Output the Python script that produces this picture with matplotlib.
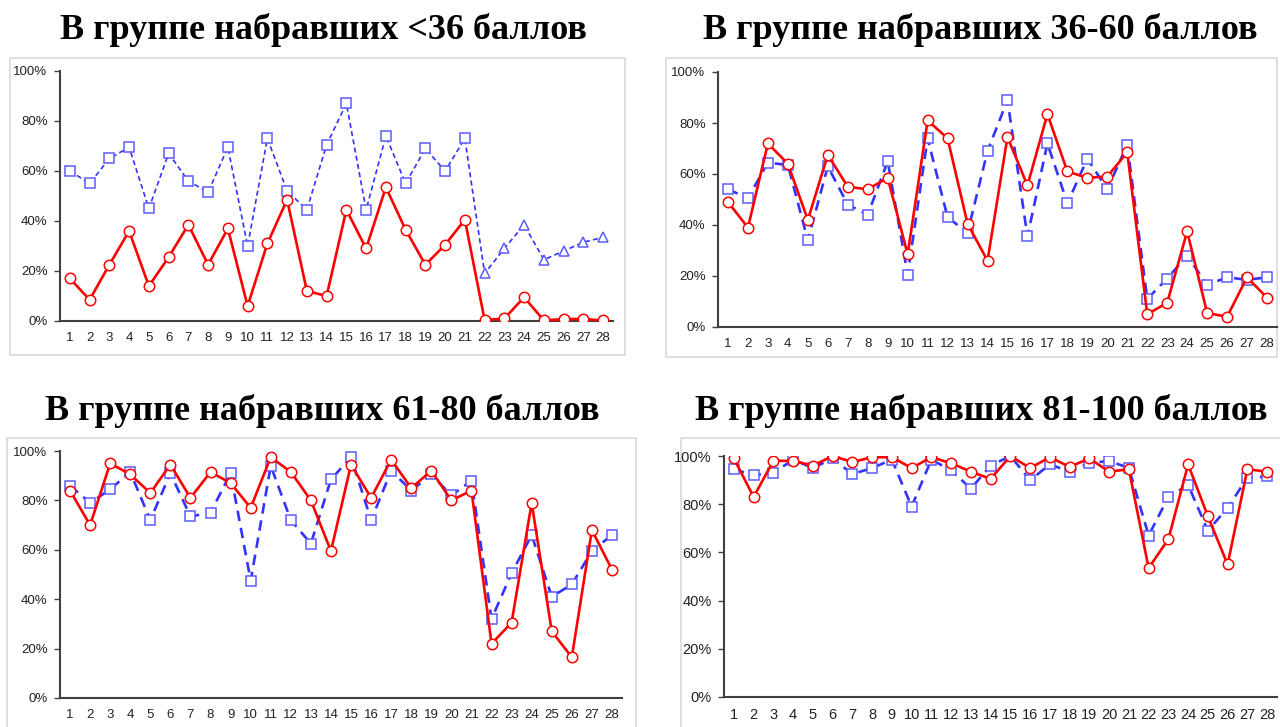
import numpy as np
import matplotlib
matplotlib.use("Agg")
import matplotlib.pyplot as plt
from matplotlib.patches import Rectangle
from matplotlib.ticker import PercentFormatter

#####DATA (percent)#############################
tasks = list(range(1, 29))

titles = ["В группе набравших <36 баллов",
          "В группе набравших 36-60 баллов",
          "В группе набравших 61-80 баллов",
          "В группе набравших 81-100 баллов"]

blue_lt36 = [60, 55, 65, 69.5, 45, 67, 56, 51.5, 69.5, 30, 73, 52, 44.5, 70.5,
             87, 44.5, 74, 55, 69, 60, 73, 19, 29, 38.5, 24.5, 28, 31.5, 33.5]
red_lt36 = [17, 8.5, 22.5, 36, 14, 25.5, 38.5, 22.5, 37, 6, 31, 48.5, 12, 10,
            44.5, 29, 53.5, 36.5, 22.5, 30.5, 40.5, 0.4, 1, 9.5, 0.2, 0.8, 0.8, 0.2]

blue_36_60 = [54, 50.5, 64.5, 63.5, 34, 63, 48, 44, 65, 20.5, 74, 43, 37, 69,
              89, 35.5, 72, 48.5, 66, 54, 71.5, 11, 19, 28, 16.5, 19.5, 18.5, 19.5]
red_36_60 = [49, 39, 72, 64, 42, 67.5, 55, 54, 58.5, 28.5, 81, 74, 40.5, 26,
             74.5, 55.5, 83.5, 61, 58.5, 59, 68.5, 5, 9.5, 37.5, 5.5, 4, 19.5, 11.5]

blue_61_80 = [86, 79, 84.5, 91.5, 72, 91, 73.5, 75, 91, 47.5, 94, 72, 62.5, 88.5,
              97.5, 72, 92, 84, 90.5, 82, 88, 32, 50.5, 66, 41, 46, 59.5, 66]
red_61_80 = [84, 70, 95, 90.5, 83, 94.5, 81, 91.5, 87, 77, 97.5, 91.5, 80, 59.5,
             94.5, 81, 96.5, 85, 92, 80, 84, 22, 30.5, 79, 27, 16.5, 68, 52]

blue_81_100 = [94.5, 92, 93, 98.5, 95, 99, 92.5, 95, 98.5, 79, 98.5, 94, 86.5, 96,
               100, 90, 96.5, 93.5, 97, 98, 95, 67, 83, 88, 69, 78.5, 91, 91.5]
red_81_100 = [99, 83, 98, 98, 96, 100, 97.5, 99.5, 99.5, 95, 99.5, 97, 93.5, 90.5,
              100, 95, 99.5, 95.5, 99, 93.5, 94.5, 53.5, 65.5, 96.5, 75, 55, 94.5, 93.5]

blue_series = [blue_lt36, blue_36_60, blue_61_80, blue_81_100]
red_series = [red_lt36, red_36_60, red_61_80, red_81_100]

#####LAYOUT (pixels, y from top)#######
W, H = 1280, 727
# axes: left, right, top, bottom
axes_px = [(60, 613, 71, 321),
           (718, 1277, 72, 327),
           (60, 622, 451, 698),
           (724, 1277, 456, 697)]
# panel boxes: left, right, top, bottom
boxes_px = [(10, 625, 58, 355),
            (666, 1277, 58, 357),
            (7, 636, 438, 740),
            (681, 1290, 438, 740)]
title_px = [(323, 30), (980, 30), (322, 411), (981, 411)]
tick_fs = [9.5, 9.5, 9.5, 10.5]

RED = "#ff0000"
BLUE = "#3333ff"
BLUE_MK = "#5c5cff"

fig = plt.figure(figsize=(W / 100, H / 100), dpi=100)
fig.patch.set_facecolor("white")

for i in range(4):
    bl, br, bt, bb = boxes_px[i]
    fig.patches.append(Rectangle((bl / W, 1 - bb / H), (br - bl) / W, (bb - bt) / H,
                                 transform=fig.transFigure, facecolor="white",
                                 edgecolor="#d9d9d9", lw=1.2, zorder=-1))
    tx, ty = title_px[i]
    fig.text(tx / W, 1 - ty / H, titles[i], ha="center", va="center",
             fontsize=26, fontweight="bold", family="Liberation Serif")

    l, r, t, b = axes_px[i]
    ax = fig.add_axes([l / W, 1 - b / H, (r - l) / W, (b - t) / H])
    ax.set_facecolor("none")

    x = np.array(tasks)
    blue = np.array(blue_series[i]) / 100
    red = np.array(red_series[i]) / 100

    if i == 0:
        # first panel: thin short dashes, triangles for tasks 22-28
        ax.plot(x, blue, color=BLUE, lw=1.2, dashes=(3, 2), zorder=2)
        ax.plot(x[:21], blue[:21], ls="none", marker="s", ms=7, mfc="white",
                mec=BLUE_MK, mew=1.1, zorder=3)
        ax.plot(x[21:], blue[21:], ls="none", marker="^", ms=7, mfc="white",
                mec=BLUE_MK, mew=1.1, zorder=3)
    else:
        ax.plot(x, blue, color=BLUE, lw=1.9, dashes=(4, 2.6), zorder=2)
        ax.plot(x, blue, ls="none", marker="s", ms=7, mfc="white",
                mec=BLUE_MK, mew=1.1, zorder=3)
    ax.plot(x, red, color=RED, lw=1.9, marker="o", ms=7.5, mfc="white",
            mec=RED, mew=1.1, zorder=4)

    ax.set_xlim(0.5, 28.5)
    ax.set_ylim(0, 1)
    ax.set_yticks(np.arange(0, 1.01, 0.2))
    ax.yaxis.set_major_formatter(PercentFormatter(1.0, decimals=0))
    ax.set_xticks(tasks)
    for lab in ax.get_xticklabels() + ax.get_yticklabels():
        lab.set_family("Liberation Sans")
        lab.set_fontsize(tick_fs[i])
        lab.set_color("#222222")
    ax.tick_params(axis="x", length=0, pad=8)
    ax.tick_params(axis="y", length=4, width=1, color="#404040", pad=5)
    for s in ["top", "right"]:
        ax.spines[s].set_visible(False)
    for s in ["left", "bottom"]:
        ax.spines[s].set_color("#404040")
        ax.spines[s].set_linewidth(1.5)

plt.savefig("out.png", dpi=100, facecolor="white")
